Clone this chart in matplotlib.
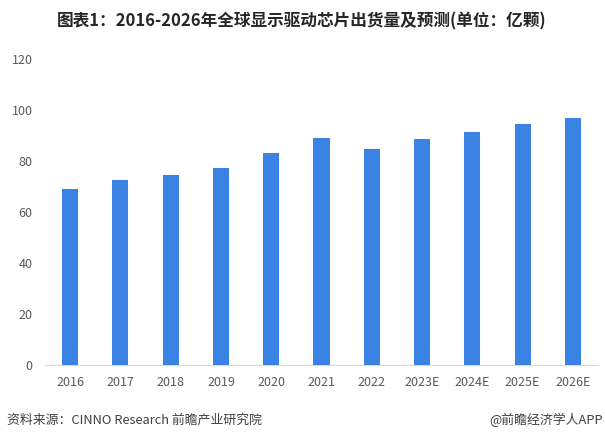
import matplotlib
matplotlib.use('Agg')
import matplotlib.pyplot as plt

plt.rcParams['font.family'] = ['Noto Sans CJK SC', 'DejaVu Sans']

years = ['2016', '2017', '2018', '2019', '2020', '2021', '2022',
         '2023E', '2024E', '2025E', '2026E']
shipments = [69.1, 72.6, 74.6, 77.3, 83.2, 89.1, 84.8, 88.7, 91.4, 94.6, 96.9]

fig = plt.figure(figsize=(6.05, 4.4), dpi=100)
ax = fig.add_axes([45 / 605, (440 - 365) / 440, (598 - 45) / 605, (365 - 59.3) / 440])

ax.bar(range(len(years)), shipments, width=0.32, color='#3a83e4', zorder=3)

ax.set_xlim(-0.5, len(years) - 0.5)
ax.set_ylim(0, 120)
ax.set_yticks([0, 20, 40, 60, 80, 100, 120])
ax.set_xticks(range(len(years)))
ax.set_xticklabels(years)
ax.tick_params(axis='both', length=0, labelsize=9, colors='#595959')
ax.tick_params(axis='y', pad=9)
ax.tick_params(axis='x', pad=8)

for s in ['top', 'right', 'left']:
    ax.spines[s].set_visible(False)
ax.spines['bottom'].set_color('#d9d9d9')

fig.text(302 / 605, 1 - 21 / 440, '图表1：2016-2026年全球显示驱动芯片出货量及预测(单位：亿颗)',
         ha='center', va='center', fontsize=12, fontweight='bold', color='#262626')
fig.text(7 / 605, 1 - 420 / 440, '资料来源：CINNO Research 前瞻产业研究院',
         ha='left', va='center', fontsize=9.3, color='#404040')
fig.text(603 / 605, 1 - 420 / 440, '@前瞻经济学人APP',
         ha='right', va='center', fontsize=9.3, color='#404040')

fig.savefig('out.png', dpi=100)
